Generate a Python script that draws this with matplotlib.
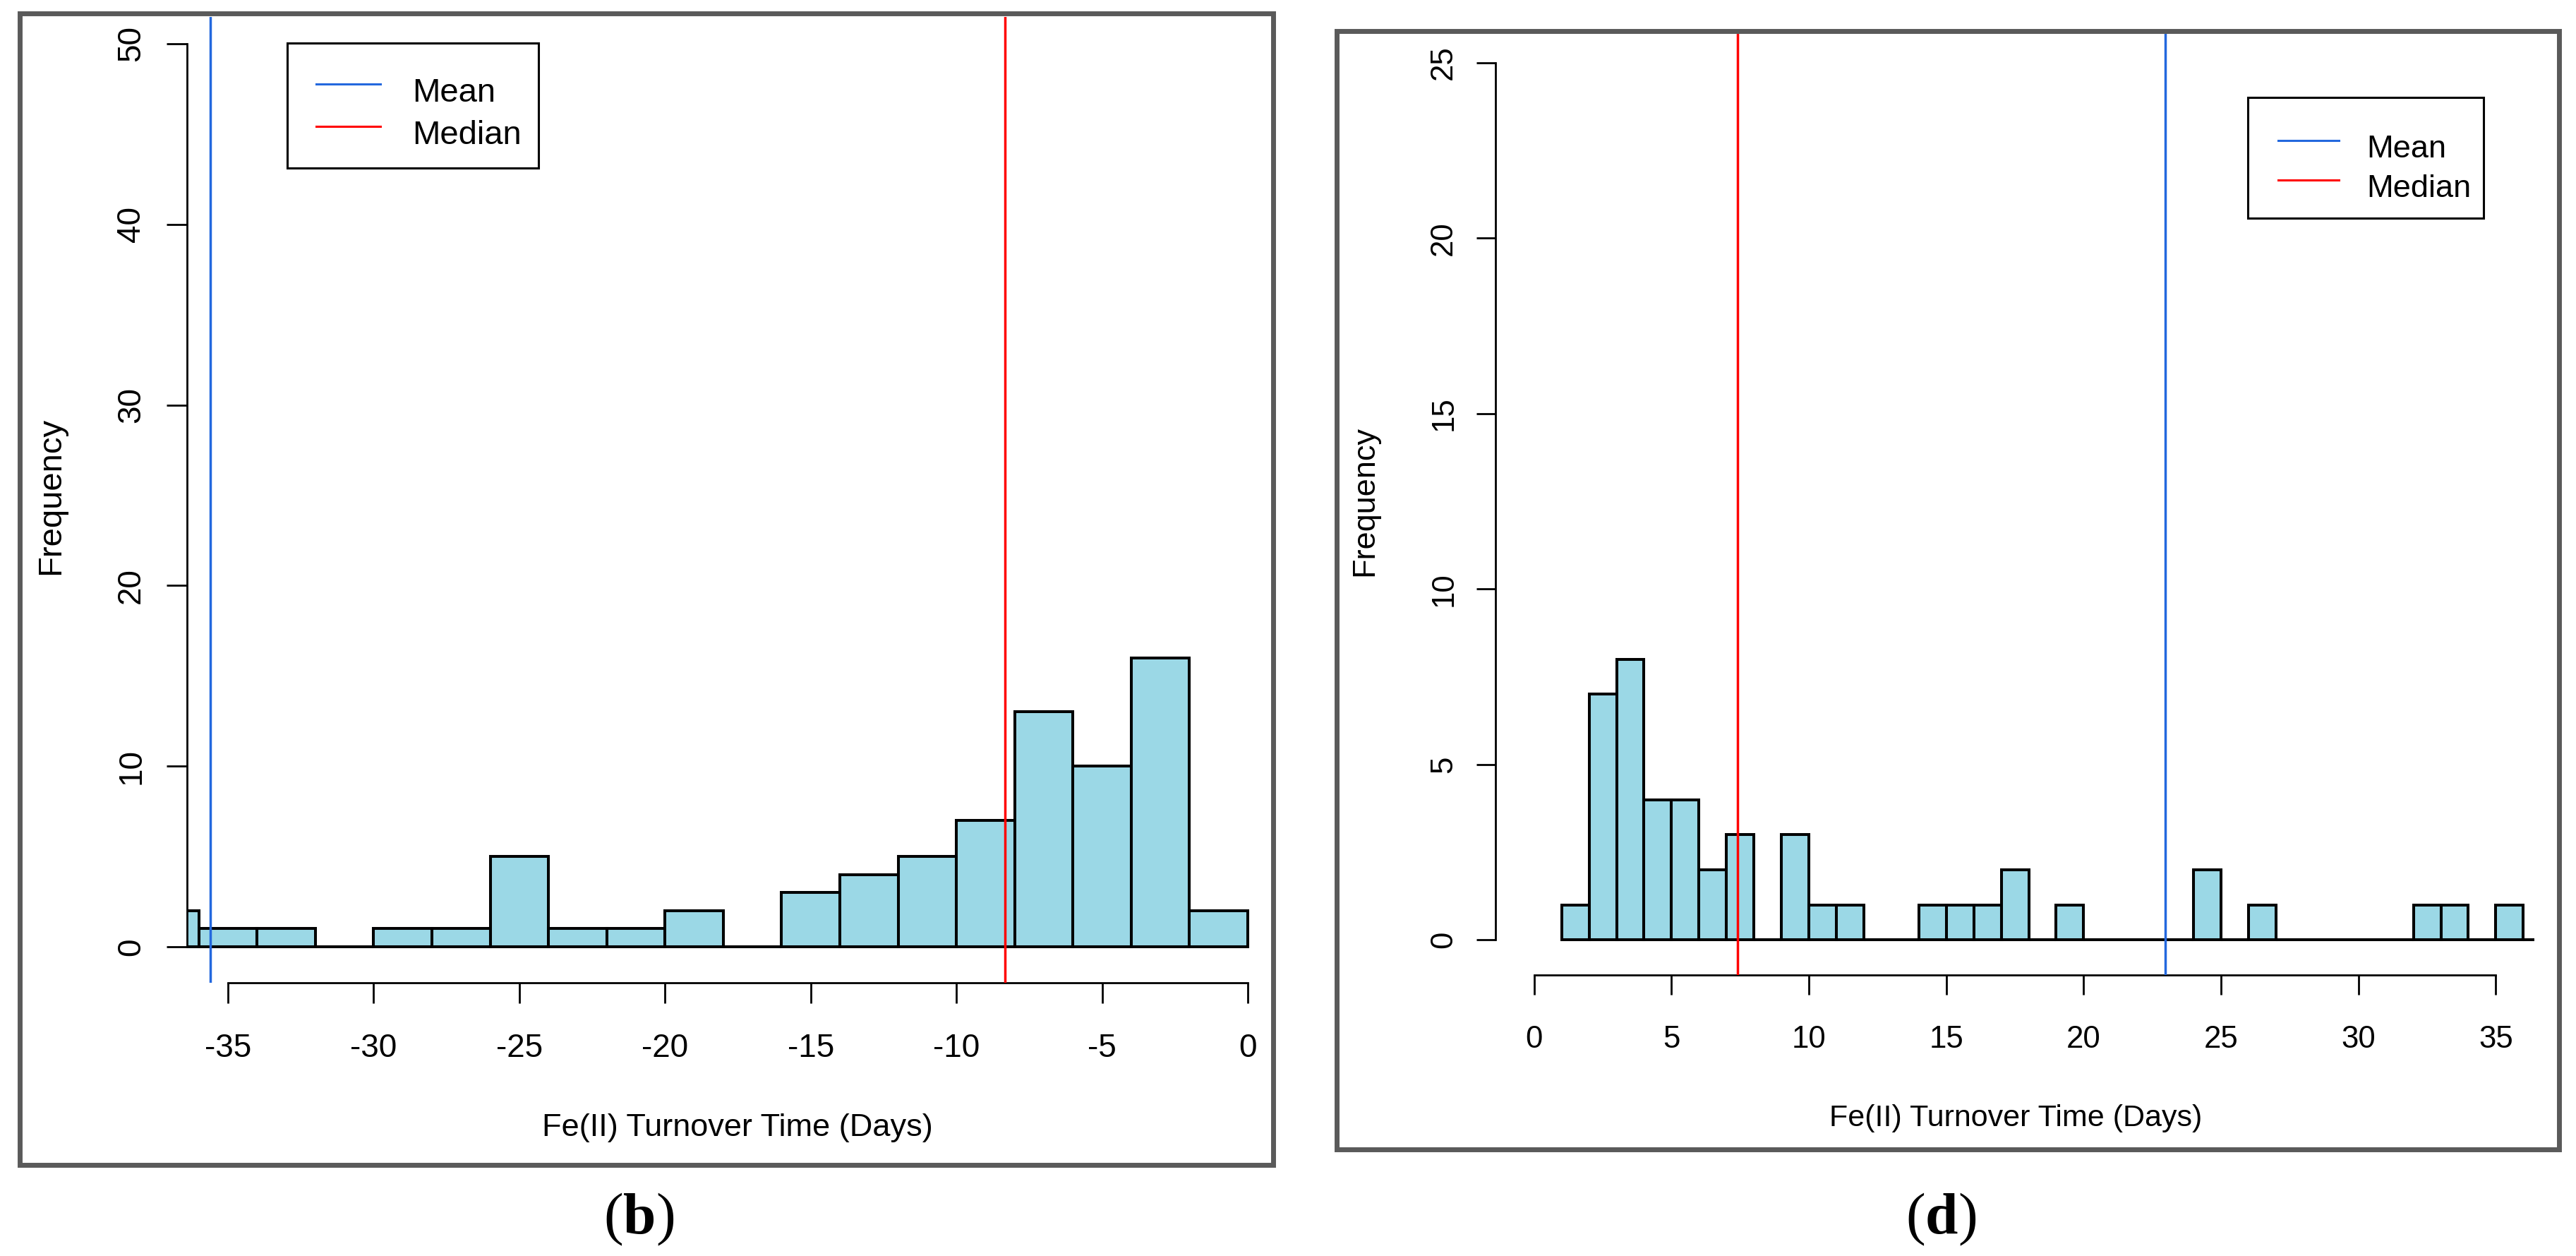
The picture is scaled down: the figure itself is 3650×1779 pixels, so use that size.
import matplotlib
matplotlib.use("Agg")
import matplotlib.pyplot as plt
from matplotlib.patches import Rectangle
from matplotlib.lines import Line2D

plt.rcParams['font.family'] = ['Liberation Sans', 'DejaVu Sans']
plt.rcParams['mathtext.fontset'] = 'custom'
plt.rcParams['mathtext.rm'] = 'Liberation Serif'
plt.rcParams['mathtext.bf'] = 'Liberation Serif:bold'

# ---------------- data ----------------
# panel (b): bins of width 2 (left edges), counts
b_bin_left = [-38, -36, -34, -32, -30, -28, -26, -24, -22, -20,
              -18, -16, -14, -12, -10, -8, -6, -4, -2]
b_counts = [2, 1, 1, 0, 1, 1, 5, 1, 1, 2,
            0, 3, 4, 5, 7, 13, 10, 16, 2]
b_bin_width = 2
b_mean = -35.6
b_median = -8.34
b_xticks = [-35, -30, -25, -20, -15, -10, -5, 0]
b_yticks = [0, 10, 20, 30, 40, 50]

# panel (d): bins of width 1 (left edges), counts
d_bin_left = list(range(1, 38))
d_counts = [1, 7, 8, 4, 4, 2, 3, 0, 3, 1,
            1, 0, 0, 1, 1, 1, 2, 0, 1, 0,
            0, 0, 0, 2, 0, 1, 0, 0, 0, 0,
            0, 1, 1, 0, 1, 0, 0]
d_bin_width = 1
d_mean = 22.98
d_median = 7.40
d_xticks = [0, 5, 10, 15, 20, 25, 30, 35]
d_yticks = [0, 5, 10, 15, 20, 25]

xlabel_text = "Fe(II) Turnover Time (Days)"
ylabel_text = "Frequency"
legend_labels = ["Mean", "Median"]
panel_labels = ["b", "d"]

# ---------------- style ----------------
W, H, DPI = 3650, 1779, 100
BAR = '#9BD8E6'
MEAN_C = '#2368DE'
MEDIAN_C = '#FF0000'
FRAME_C = '#5A5A5A'


def fx(p):
    return p / W


def fy(p):
    return 1 - p / H


def pt(px):
    return px * 72.0 / DPI


fig = plt.figure(figsize=(W / DPI, H / DPI), dpi=DPI)
fig.patch.set_facecolor('white')


def panel(ax_px, xlim, ylim, lefts, counts, width, mean, median,
          xticks, yticks, fs_tick, fs_lab, ticklen_px, ypad_px, xpad_px,
          ylab_xy, xlab_xy):
    l, t, r, b = ax_px
    ax = fig.add_axes([fx(l), fy(b), (r - l) / W, (b - t) / H])
    ax.set_facecolor('none')
    ax.bar(lefts, counts, width=width, align='edge', color=BAR,
           edgecolor='black', linewidth=2.9, zorder=2)
    ax.axvline(mean, color=MEAN_C, lw=2.5, zorder=4)
    ax.axvline(median, color=MEDIAN_C, lw=2.5, zorder=4)
    ax.set_xlim(xlim)
    ax.set_ylim(ylim)
    for s in ['top', 'right']:
        ax.spines[s].set_visible(False)
    ax.spines['left'].set_bounds(yticks[0], yticks[-1])
    ax.spines['bottom'].set_bounds(xticks[0], xticks[-1])
    for s in ['left', 'bottom']:
        ax.spines[s].set_linewidth(2.0)
        ax.spines[s].set_zorder(3)
    ax.set_xticks(xticks)
    ax.set_xticklabels([str(v) for v in xticks])
    ax.set_yticks(yticks)
    ax.set_yticklabels([str(v) for v in yticks])
    ax.tick_params(axis='both', direction='out', length=pt(ticklen_px),
                   width=2.0, labelsize=fs_tick)
    ax.tick_params(axis='y', pad=pt(ypad_px))
    ax.tick_params(axis='x', pad=pt(xpad_px))
    for lbl in ax.get_xticklabels():
        lbl.set_va('center')
    for lbl in ax.get_yticklabels():
        lbl.set_rotation(90)
        lbl.set_ha('center')
        lbl.set_va('center')
    ax.set_ylabel(ylabel_text, fontsize=fs_lab)
    ax.yaxis.set_label_coords(fx(ylab_xy[0]), fy(ylab_xy[1]), transform=fig.transFigure)
    ax.yaxis.label.set_va('center')
    ax.set_xlabel(xlabel_text, fontsize=fs_lab - 1.5)
    ax.xaxis.set_label_coords(fx(xlab_xy[0]), fy(xlab_xy[1]), transform=fig.transFigure)
    ax.xaxis.label.set_va('center')
    return ax


def legend(frame, handle_x, rows, text_x, fs, base_off):
    x0, y0, x1, y1 = frame
    fig.patches.append(Rectangle((fx(x0), fy(y1)), (x1 - x0) / W, (y1 - y0) / H,
                                 transform=fig.transFigure, facecolor='white',
                                 edgecolor='black', lw=2.2, zorder=6))
    for y, col, lab in zip(rows, [MEAN_C, MEDIAN_C], legend_labels):
        fig.lines.append(Line2D([fx(handle_x[0]), fx(handle_x[1])], [fy(y), fy(y)],
                                transform=fig.transFigure, color=col, lw=2.2,
                                zorder=7))
        fig.text(fx(text_x), fy(y + base_off), lab, fontsize=fs,
                 ha='left', va='baseline', zorder=7)


def frame_box(x0, y0, x1, y1):
    fig.patches.append(Rectangle((fx(x0), fy(y1)), (x1 - x0) / W, (y1 - y0) / H,
                                 transform=fig.transFigure, fill=False,
                                 edgecolor=FRAME_C, lw=5.0, joinstyle='miter',
                                 zorder=10))


# ---------------- panel (b) ----------------
panel(ax_px=(265.2, 23.6, 1825.8, 1392.2), xlim=(-36.4, 1.4), ylim=(-2, 51.5),
      lefts=b_bin_left, counts=b_counts, width=b_bin_width,
      mean=b_mean, median=b_median, xticks=b_xticks, yticks=b_yticks,
      fs_tick=33, fs_lab=34, ticklen_px=29, ypad_px=50, xpad_px=64,
      ylab_xy=(72.5, 702), xlab_xy=(1045, 1598))
legend((407, 61, 763, 238), (448, 539), (119, 179), 584, 34, 25)
frame_box(27.5, 19.3, 1804, 1650)
fig.text(fx(905), fy(1727), r'($\mathbf{%s}$)' % panel_labels[0], fontsize=60,
         family='Liberation Serif', ha='center', va='center')

# ---------------- panel (d) ----------------
panel(ax_px=(2119.2, 48.2, 3590.9, 1381.0), xlim=(-1.4, 36.4), ylim=(-1, 25.82),
      lefts=d_bin_left, counts=d_counts, width=d_bin_width,
      mean=d_mean, median=d_median, xticks=d_xticks, yticks=d_yticks,
      fs_tick=31.5, fs_lab=32.5, ticklen_px=27.5, ypad_px=46, xpad_px=64,
      ylab_xy=(1934, 710), xlab_xy=(2856, 1584))
legend((3185, 138, 3519, 309), (3228, 3314), (199, 255), 3353, 32.5, 24)
frame_box(1893.6, 44.4, 3625.5, 1628)
fig.text(fx(2750), fy(1727), r'($\mathbf{%s}$)' % panel_labels[1], fontsize=60,
         family='Liberation Serif', ha='center', va='center')

fig.savefig('out.png', dpi=DPI, facecolor='white')
